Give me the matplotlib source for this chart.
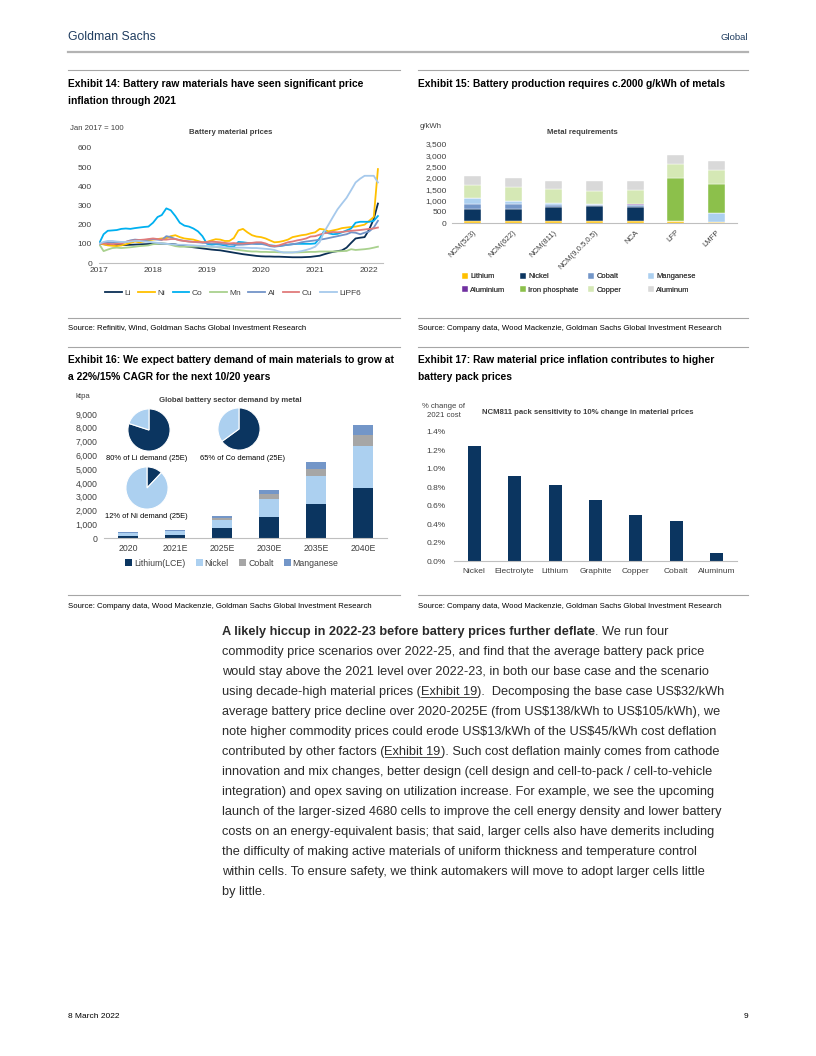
import matplotlib
matplotlib.use("Agg")
import matplotlib.pyplot as plt
from matplotlib.lines import Line2D
import pandas as pd

W, H = 816, 1056

NARROW = ['Liberation Sans Narrow', 'Liberation Sans', 'DejaVu Sans']
plt.rcParams['font.family'] = ['Liberation Sans', 'DejaVu Sans']
plt.rcParams['text.parse_math'] = False

# ---------------- data ----------------
# Exhibit 14: monthly price index, Jan 2017 = 100
months = pd.date_range("2017-01-01", "2022-03-01", freq="MS")
li = [100, 98, 96, 95, 94, 93, 94, 95, 96, 97, 98, 99,
      100, 101, 101, 100, 99, 97, 92, 88, 85, 82, 79, 76,
      73, 70, 68, 66, 62, 58, 54, 50, 46, 43, 40, 37,
      35, 34, 34, 33, 33, 32, 31, 30, 30, 30, 31, 32,
      35, 38, 45, 52, 58, 62, 66, 80, 105, 128, 132, 135,
      175, 230, 310]
ni = [100, 98, 92, 90, 88, 92, 98, 105, 112, 108, 112, 118,
      122, 125, 128, 130, 140, 145, 135, 128, 125, 122, 115, 108,
      110, 118, 124, 122, 115, 115, 130, 170, 178, 160, 145, 138,
      135, 128, 118, 108, 110, 115, 122, 135, 140, 145, 148, 155,
      160, 178, 175, 165, 170, 175, 182, 185, 188, 190, 195, 200,
      220, 240, 490]
co = [100, 150, 168, 170, 172, 178, 180, 178, 182, 185, 188, 190,
      210, 240, 250, 285, 275, 245, 210, 195, 190, 180, 165, 140,
      100, 95, 98, 96, 92, 84, 85, 110, 108, 105, 103, 100,
      100, 98, 92, 90, 88, 92, 95, 98, 100, 100, 100, 100,
      102, 130, 165, 155, 150, 152, 160, 170, 180, 210, 215, 215,
      215, 220, 245]
mn = [100, 62, 70, 78, 80, 78, 80, 82, 85, 88, 90, 92,
      98, 100, 102, 100, 95, 88, 85, 85, 85, 85, 86, 86,
      86, 85, 84, 80, 78, 75, 72, 68, 65, 62, 60, 60,
      58, 58, 57, 57, 56, 55, 55, 55, 55, 56, 57, 58,
      58, 60, 60, 60, 60, 61, 62, 63, 72, 68, 70, 72,
      75, 80, 85]
al = [100, 105, 108, 106, 105, 104, 110, 118, 122, 120, 118, 122,
      125, 122, 120, 140, 135, 125, 120, 115, 112, 110, 108, 106,
      104, 102, 102, 100, 98, 96, 95, 95, 96, 98, 100, 100,
      100, 95, 88, 85, 88, 92, 95, 98, 102, 108, 112, 115,
      118, 122, 125, 130, 135, 140, 145, 150, 160, 158, 150, 158,
      165, 185, 220]
cu = [100, 102, 100, 98, 100, 102, 110, 115, 118, 120, 122, 125,
      128, 125, 122, 122, 125, 125, 118, 115, 112, 110, 110, 108,
      110, 112, 110, 108, 105, 102, 104, 102, 102, 104, 105, 108,
      108, 102, 92, 88, 92, 100, 108, 112, 118, 122, 128, 138,
      140, 148, 155, 158, 162, 160, 162, 165, 168, 170, 172, 175,
      178, 180, 185]
lipf6 = [100, 110, 115, 115, 112, 110, 110, 112, 115, 115, 112, 110,
         108, 105, 102, 100, 98, 96, 95, 95, 93, 92, 90, 90,
         88, 86, 85, 84, 82, 80, 80, 80, 80, 79, 78, 78,
         76, 74, 72, 68, 60, 55, 55, 55, 58, 62, 68, 75,
         85, 110, 160, 200, 240, 280, 310, 340, 380, 420, 440, 455,
         455, 455, 420]
price_names = ["Li", "Ni", "Co", "Mn", "Al", "Cu", "LiPF6"]
price_colors = ["#0b2f55", "#ffc000", "#00b0f0", "#a9d18e", "#7394c8", "#e07b7b", "#a6c9ec"]

# Exhibit 15: metal requirements, g/kWh
cathodes = ["NCM(523)", "NCM(622)", "NCM(811)", "NCM(9,0.5,0.5)", "NCA", "LFP", "LMFP"]
req_lithium = [100, 100, 100, 100, 100, 100, 70]
req_nickel = [530, 540, 615, 670, 630, 0, 0]
req_cobalt = [205, 205, 100, 45, 85, 0, 0]
req_manganese = [265, 145, 90, 45, 0, 0, 400]
req_aluminium = [0, 0, 0, 0, 40, 0, 0]
req_iron_phosphate = [0, 0, 0, 0, 0, 1900, 1270]
req_copper = [585, 600, 585, 570, 620, 600, 590]
req_aluminum = [410, 390, 390, 410, 390, 390, 410]
req_names = ["Lithium", "Nickel", "Cobalt", "Manganese", "Aluminium", "Iron phosphate", "Copper", "Aluminum"]
req_colors = ["#ffc000", "#0b3560", "#7396c8", "#acd0f0", "#7030a0", "#8cc04b", "#d5e8b5", "#d9d9d9"]

# Exhibit 16: battery sector demand, ktpa
demand_years = ["2020", "2021E", "2025E", "2030E", "2035E", "2040E"]
dem_lithium = [150, 230, 700, 1550, 2450, 3630]
dem_nickel = [200, 250, 600, 1300, 2050, 3050]
dem_cobalt = [30, 50, 180, 350, 480, 770]
dem_manganese = [20, 40, 120, 300, 500, 730]
dem_names = ["Lithium(LCE)", "Nickel", "Cobalt", "Manganese"]
dem_colors = ["#0b3560", "#acd0f0", "#a6a6a6", "#7396c8"]
li_share = [80, 20]
co_share = [65, 35]
ni_share = [12, 88]

# Exhibit 17: pack cost sensitivity, %
materials = ["Nickel", "Electrolyte", "Lithium", "Graphite", "Copper", "Cobalt", "Aluminum"]
sensitivity = [1.25, 0.92, 0.83, 0.66, 0.50, 0.43, 0.09]

body = [
    [("A likely hiccup in 2022-23 before battery prices further deflate", "b"), (". We run four", "n")],
    [("commodity price scenarios over 2022-25, and find that the average battery pack price", "n")],
    [("would stay above the 2021 level over 2022-23, in both our base case and the scenario", "n")],
    [("using decade-high material prices (", "n"), ("Exhibit 19", "u"), (").  Decomposing the base case US$32/kWh", "n")],
    [("average battery price decline over 2020-2025E (from US$138/kWh to US$105/kWh), we", "n")],
    [("note higher commodity prices could erode US$13/kWh of the US$45/kWh cost deflation", "n")],
    [("contributed by other factors (", "n"), ("Exhibit 19", "u"), ("). Such cost deflation mainly comes from cathode", "n")],
    [("innovation and mix changes, better design (cell design and cell-to-pack / cell-to-vehicle", "n")],
    [("integration) and opex saving on utilization increase. For example, we see the upcoming", "n")],
    [("launch of the larger-sized 4680 cells to improve the cell energy density and lower battery", "n")],
    [("costs on an energy-equivalent basis; that said, larger cells also have demerits including", "n")],
    [("the difficulty of making active materials of uniform thickness and temperature control", "n")],
    [("within cells. To ensure safety, we think automakers will move to adopt larger cells little", "n")],
    [("by little.", "n")],
]


def rect(l, t, r, b):
    return [l / W, 1 - b / H, (r - l) / W, (b - t) / H]


def fx(x):
    return x / W


def fy(y):
    return 1 - y / H


fig = plt.figure(figsize=(W / 100, H / 100), dpi=100)

TICK = "#404040"
AXIS = "#bfbfbf"
FS = 6


def hline(y, x0, x1, color="#a6a6a6", lw=0.8):
    fig.add_artist(Line2D([fx(x0), fx(x1)], [fy(y), fy(y)], color=color, lw=lw))


def style_ax(ax):
    for s in ["top", "right", "left"]:
        ax.spines[s].set_visible(False)
    ax.spines["bottom"].set_color(AXIS)
    ax.spines["bottom"].set_linewidth(0.8)
    ax.tick_params(axis="both", length=0, labelsize=FS, colors=TICK)
    ax.set_facecolor("none")


# ---------------- page furniture ----------------
fig.text(fx(68), fy(37), "Goldman Sachs", family=NARROW, fontsize=8.8, color="#1f3c5f", va="center")
fig.text(fx(748), fy(38), "Global", family=NARROW, fontsize=6.8, color="#1f3c5f", va="center", ha="right")
hline(52, 68, 748, color="#b3b3b3", lw=1.6)

hline(70, 68, 400)
hline(70, 418, 748)
fig.text(fx(68), fy(84), "Exhibit 14: Battery raw materials have seen significant price",
         family=NARROW, fontsize=7.4, fontweight="bold", va="center")
fig.text(fx(68), fy(101), "inflation through 2021", family=NARROW, fontsize=7.4, fontweight="bold", va="center")
fig.text(fx(418), fy(84), "Exhibit 15: Battery production requires c.2000 g/kWh of metals",
         family=NARROW, fontsize=7.4, fontweight="bold", va="center")

hline(318, 68, 400)
hline(318, 418, 748)
fig.text(fx(68), fy(328), "Source: Refinitiv, Wind, Goldman Sachs Global Investment Research",
         family=NARROW, fontsize=5.6, va="center")
fig.text(fx(418), fy(328), "Source: Company data, Wood Mackenzie, Goldman Sachs Global Investment Research",
         family=NARROW, fontsize=5.6, va="center")

hline(347, 68, 400)
hline(347, 418, 748)
fig.text(fx(68), fy(360), "Exhibit 16: We expect battery demand of main materials to grow at",
         family=NARROW, fontsize=7.4, fontweight="bold", va="center")
fig.text(fx(68), fy(377), "a 22%/15% CAGR for the next 10/20 years", family=NARROW, fontsize=7.4,
         fontweight="bold", va="center")
fig.text(fx(418), fy(360), "Exhibit 17: Raw material price inflation contributes to higher",
         family=NARROW, fontsize=7.4, fontweight="bold", va="center")
fig.text(fx(418), fy(377), "battery pack prices", family=NARROW, fontsize=7.4, fontweight="bold", va="center")

hline(595, 68, 400)
hline(595, 418, 748)
fig.text(fx(68), fy(606), "Source: Company data, Wood Mackenzie, Goldman Sachs Global Investment Research",
         family=NARROW, fontsize=5.6, va="center")
fig.text(fx(418), fy(606), "Source: Company data, Wood Mackenzie, Goldman Sachs Global Investment Research",
         family=NARROW, fontsize=5.6, va="center")

fig.text(fx(68), fy(1017), "8 March 2022", family=NARROW, fontsize=6, va="center")
fig.text(fx(748), fy(1017), "9", family=NARROW, fontsize=6, va="center", ha="right")

# ---------------- Exhibit 14 ----------------
ax1 = fig.add_axes(rect(99, 148, 382.5, 263))
style_ax(ax1)
for vals, name, col in zip([li, ni, co, mn, al, cu, lipf6], price_names, price_colors):
    ax1.plot(months, vals, color=col, lw=1.3, label=name)
ax1.set_ylim(0, 600)
ax1.set_xlim(pd.Timestamp("2017-01-01"), pd.Timestamp("2022-04-01"))
ax1.set_yticks(range(0, 601, 100))
ax1.set_xticks(pd.date_range("2017-01-01", "2022-01-01", freq="YS"))
ax1.set_xticklabels([str(y) for y in range(2017, 2023)])
ax1.tick_params(axis="x", pad=3)
ax1.tick_params(axis="y", pad=5)
fig.text(fx(70), fy(128), "Jan 2017 = 100", fontsize=5.6, color=TICK, va="center")
fig.text(fx(231), fy(133), "Battery material prices", fontsize=5.6, color=TICK, va="center",
         ha="center", fontweight="bold")
h, l = ax1.get_legend_handles_labels()
fig.legend(h, l, loc="center", bbox_to_anchor=(fx(233), fy(293)), ncol=7, frameon=False,
           fontsize=FS, handlelength=2.0, handletextpad=0.3, columnspacing=0.9,
           labelcolor=TICK)

# ---------------- Exhibit 15 ----------------
ax2 = fig.add_axes(rect(452, 143.7, 737, 223.3))
style_ax(ax2)
stack = [req_lithium, req_nickel, req_cobalt, req_manganese, req_aluminium,
         req_iron_phosphate, req_copper, req_aluminum]
xs = range(len(cathodes))
bottom = [0] * len(cathodes)
for vals, name, col in zip(stack, req_names, req_colors):
    ax2.bar(xs, vals, 0.42, bottom=bottom, color=col, edgecolor="white", linewidth=0.3, label=name)
    bottom = [b + v for b, v in zip(bottom, vals)]
ax2.set_xlim(-0.5, 6.5)
ax2.set_ylim(0, 3500)
ax2.set_yticks(range(0, 3501, 500))
ax2.set_yticklabels([f"{v:,}" for v in range(0, 3501, 500)])
ax2.set_xticks(list(xs))
ax2.set_xticklabels(cathodes, rotation=45, ha="right", rotation_mode="anchor")
ax2.tick_params(axis="x", pad=4, labelsize=5.6)
ax2.tick_params(axis="y", pad=4)
fig.text(fx(420), fy(127), "g/kWh", fontsize=5.6, color=TICK, va="center")
fig.text(fx(582), fy(133), "Metal requirements", fontsize=5.6, color=TICK, va="center",
         ha="center", fontweight="bold")
h2, l2 = ax2.get_legend_handles_labels()
col_x = [462, 520, 588, 648]
for c in range(4):
    lg = fig.legend([h2[c], h2[c + 4]], [l2[c], l2[c + 4]], loc="upper left",
                    bbox_to_anchor=(fx(col_x[c]), fy(273)), frameon=False, fontsize=5.4,
                    handlelength=0.8, handleheight=0.8, handletextpad=0.3, labelspacing=0.8,
                    borderpad=0, borderaxespad=0, labelcolor=TICK)
    fig.add_artist(lg)

# ---------------- Exhibit 16 ----------------
ax3 = fig.add_axes(rect(104.5, 414, 386.5, 538))
style_ax(ax3)
xs3 = range(len(demand_years))
bottom = [0] * len(demand_years)
for vals, name, col in zip([dem_lithium, dem_nickel, dem_cobalt, dem_manganese], dem_names, dem_colors):
    ax3.bar(xs3, vals, 0.42, bottom=bottom, color=col, label=name)
    bottom = [b + v for b, v in zip(bottom, vals)]
ax3.set_xlim(-0.5, 5.5)
ax3.set_ylim(0, 9000)
ax3.set_yticks(range(0, 9001, 1000))
ax3.set_yticklabels([f"{v:,}" for v in range(0, 9001, 1000)])
ax3.set_xticks(list(xs3))
ax3.set_xticklabels(demand_years)
ax3.tick_params(axis="x", pad=4, labelsize=6.3)
ax3.tick_params(axis="y", pad=5, labelsize=6.3)
fig.text(fx(75), fy(397), "ktpa", fontsize=5.6, color=TICK, va="center")
fig.text(fx(230), fy(401), "Global battery sector demand by metal", fontsize=5.6, color=TICK,
         va="center", ha="center", fontweight="bold")
h3, l3 = ax3.get_legend_handles_labels()
fig.legend(h3, l3, loc="center", bbox_to_anchor=(fx(232), fy(563)), ncol=4, frameon=False,
           fontsize=6.3, handlelength=0.8, handleheight=0.8, handletextpad=0.2, columnspacing=1.2,
           labelcolor=TICK)

for (cx, cy), share, lab, (lx, ly) in [
        ((149, 430), li_share, "80% of Li demand (25E)", (147, 459)),
        ((239, 429), co_share, "65% of Co demand (25E)", (242, 459)),
        ((147, 488), ni_share, "12% of Ni demand (25E)", (146, 517))]:
    pa = fig.add_axes(rect(cx - 21.5, cy - 21.5, cx + 21.5, cy + 21.5))
    pa.pie(share, colors=["#0b3560", "#acd0f0"], startangle=90, counterclock=False,
           wedgeprops=dict(edgecolor="white", linewidth=0.8))
    pa.set_xlim(-1.02, 1.02)
    pa.set_ylim(-1.02, 1.02)
    pa.set_aspect("equal")
    fig.text(fx(lx), fy(ly), lab, fontsize=5.4, color="black", va="center", ha="center")

# ---------------- Exhibit 17 ----------------
ax4 = fig.add_axes(rect(454, 432, 737, 561))
style_ax(ax4)
ax4.bar(range(len(materials)), sensitivity, 0.32, color="#0b3560")
ax4.set_xlim(-0.5, 6.5)
ax4.set_ylim(0, 1.4)
ticks4 = [0.0, 0.2, 0.4, 0.6, 0.8, 1.0, 1.2, 1.4]
ax4.set_yticks(ticks4)
ax4.set_yticklabels([f"{t:.1f}%" for t in ticks4])
ax4.set_xticks(range(len(materials)))
ax4.set_xticklabels(materials)
ax4.tick_params(axis="x", pad=5)
ax4.tick_params(axis="y", pad=6)
fig.text(fx(444), fy(406.5), "% change of", fontsize=5.6, color=TICK, va="center", ha="center")
fig.text(fx(444), fy(415.5), "2021 cost", fontsize=5.6, color=TICK, va="center", ha="center")
fig.text(fx(588), fy(412), "NCM811 pack sensitivity to 10% change in material prices", fontsize=5.6,
         color=TICK, va="center", ha="center", fontweight="bold")

# ---------------- body text ----------------
renderer = fig.canvas.get_renderer()
for i, parts in enumerate(body):
    x = 222
    base = 635 + 20 * i
    for txt, style in parts:
        t = fig.text(fx(x), fy(base), txt, fontsize=9.2, color="#2b2b2b", va="baseline",
                     fontweight="bold" if style == "b" else "normal")
        bb = t.get_window_extent(renderer=renderer)
        if style == "u":
            fig.add_artist(Line2D([bb.x0 / W, bb.x1 / W], [fy(base + 2), fy(base + 2)],
                                  color="#2b2b2b", lw=0.6))
        x = bb.x1

fig.savefig("out.png", dpi=100)
